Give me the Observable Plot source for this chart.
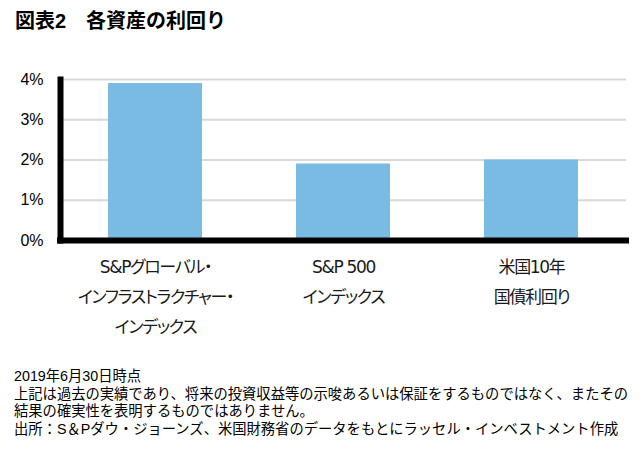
<!DOCTYPE html>
<html>
<head>
<meta charset="utf-8">
<script src="https://cdn.jsdelivr.net/npm/d3@7"></script>
<script src="https://cdn.jsdelivr.net/npm/@observablehq/plot@0.6"></script>
<style>
  html, body { margin: 0; padding: 0; background: #fff; }
  body { width: 644px; height: 455px; overflow: hidden; font-family: "Liberation Sans", Arial, "Noto Sans CJK JP", sans-serif; color: #000; }
  #title { height: 40px; box-sizing: border-box; padding: 9px 0 0 15px; font-size: 20px; line-height: 24px; font-weight: bold; white-space: pre; }
  #chart { height: 320px; }
  #note { padding: 8px 0 0 14px; font-size: 14.3px; line-height: 17.5px; white-space: nowrap; }
</style>
</head>
<body>
<div id="title">図表2　各資産の利回り</div>
<div id="chart"></div>
<div id="note"></div>
<script>
const categories = ["S&Pグローバル・\nインフラストラクチャー・\nインデックス", "S&P 500\nインデックス", "米国10年\n国債利回り"];
const values = [3.9, 1.9, 2.0];
const yTicks = [0, 1, 2, 3, 4];
const noteLines = [
  "2019年6月30日時点",
  "上記は過去の実績であり、将来の投資収益等の示唆あるいは保証をするものではなく、またその",
  "結果の確実性を表明するものではありません。",
  "出所：S＆Pダウ・ジョーンズ、米国財務省のデータをもとにラッセル・インベストメント作成"
];

const data = categories.map((c, i) => ({category: c, value: values[i]}));

const plot = Plot.plot({
  width: 644,
  height: 320,
  marginLeft: 60,
  marginRight: 18,
  marginTop: 39,
  marginBottom: 120,
  style: {fontFamily: '"Liberation Sans", Arial, "Noto Sans CJK JP", sans-serif', color: "#000", background: "#fff"},
  x: {domain: categories, paddingInner: 0.5, paddingOuter: 0.25, axis: null},
  y: {domain: [0, 4]},
  marks: [
    Plot.gridY(yTicks, {stroke: "#d9d9d9", strokeOpacity: 1, strokeWidth: 2}),
    Plot.barY(data, {x: "category", y: "value", fill: "#7abbe4"}),
    Plot.axisY(yTicks, {tickSize: 0, tickPadding: 17, fontSize: 16, tickFormat: d => d + "%", label: null}),
    Plot.frame({anchor: "left", stroke: "#000", strokeWidth: 6}),
    Plot.ruleY([0], {stroke: "#000", strokeWidth: 6, insetLeft: -3, insetRight: -3}),
    Plot.text(data, {x: "category", y: 0, text: "category", dy: 11, lineAnchor: "top", lineHeight: 1.765, fontSize: 17, fill: "#1a1a1a", fontFamily: '"DejaVu Sans", "Noto Sans CJK JP", sans-serif'})
  ]
});
plot.querySelectorAll('g[aria-label="text"]').forEach(g => g.setAttribute("style", "font-feature-settings: 'palt'; letter-spacing: -1.3px;"));
document.getElementById("chart").appendChild(plot);
document.getElementById("note").innerHTML = noteLines.map(l => l.replace(/&/g, "&amp;")).join("<br>");
</script>
</body>
</html>
